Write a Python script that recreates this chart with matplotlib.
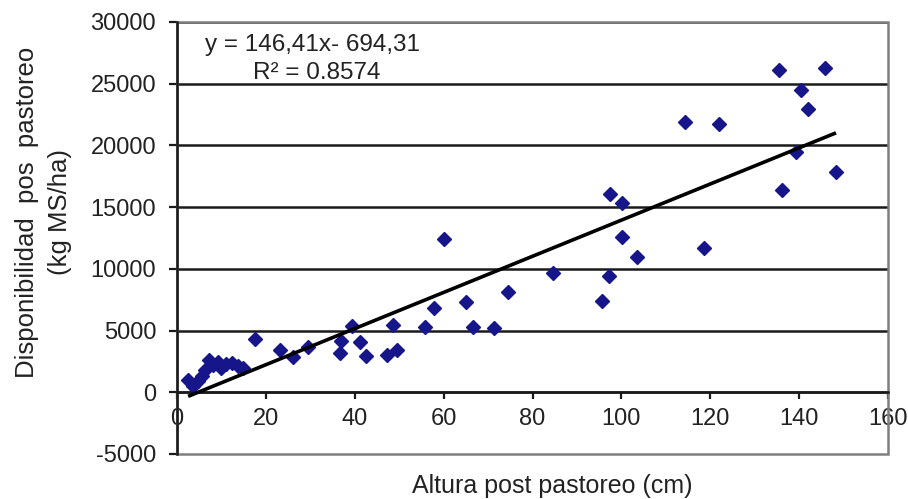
import matplotlib
matplotlib.use("Agg")
import matplotlib.pyplot as plt
from matplotlib.patches import Rectangle
import numpy as np

plt.rcParams['font.family'] = ['Liberation Sans', 'DejaVu Sans']

# Data
altura = [2.5, 3.6, 4.7, 5.6, 6.3, 7.2, 8.1, 9.2, 9.9, 11.0, 12.4, 13.7, 14.9,
          17.6, 23.2, 26.1, 29.5, 36.7, 36.9, 39.4, 41.2, 42.5, 47.3, 48.6, 49.5,
          55.8, 57.8, 60.1, 65.0, 66.6, 71.3, 74.5, 84.6,
          95.7, 97.2, 97.5, 100.2, 100.2, 103.5, 114.3, 118.6, 122.0,
          135.5, 136.1, 139.3, 140.4, 141.9, 145.8, 148.3]
disponibilidad = [970, 490, 890, 1300, 1780, 2590, 2190, 2430, 1950, 2270, 2350, 2110, 1950,
                  4300, 3400, 2840, 3650, 3160, 4130, 5350, 4050, 2920, 3000, 5430, 3400,
                  5270, 6810, 12400, 7290, 5270, 5190, 8100, 9640,
                  7370, 9400, 16050, 15320, 12560, 10940, 21880, 11670, 21720,
                  26090, 16400, 19470, 24470, 22930, 26260, 17830]

slope = 146.41
intercept = -694.31
r2_text = "R² = 0.8574"
eq_text = "y = 146,41x- 694,31"

x_ticks = [0, 20, 40, 60, 80, 100, 120, 140, 160]
y_ticks = [-5000, 0, 5000, 10000, 15000, 20000, 25000, 30000]

fig = plt.figure(figsize=(9.08, 4.99), dpi=100)
ax = fig.add_axes([177/908, 1-454/499, (888-177)/908, (454-22)/499])

navy = '#16168a'
ax.plot(altura, disponibilidad, linestyle='none', marker='D', markersize=7.3,
        color=navy, zorder=4)

xl = np.array([min(altura), max(altura)])
ax.plot(xl, slope*xl + intercept, color='black', lw=2.6, zorder=5,
        solid_capstyle='butt')

ax.set_xlim(0, 160)
ax.set_ylim(-5000, 30000)

# horizontal gridlines
for yv in y_ticks[1:]:
    ax.axhline(yv, color='#1a1a1a', lw=1.8, zorder=1)

# frame
for s in ['top', 'right']:
    ax.spines[s].set_visible(False)
ax.add_patch(Rectangle((0, 0), 1, 1, transform=ax.transAxes, fill=False,
                       edgecolor='#7f7f7f', lw=1.8, zorder=2, clip_on=False))
ax.spines['bottom'].set_position(('data', 0))
ax.spines['bottom'].set_color('#1a1a1a')
ax.spines['bottom'].set_linewidth(1.8)
ax.spines['left'].set_color('#1a1a1a')
ax.spines['left'].set_linewidth(1.8)
ax.spines['left'].set_zorder(3)

ax.set_xticks(x_ticks)
ax.set_yticks(y_ticks)
ax.set_xticklabels([str(v) for v in x_ticks])
ax.set_yticklabels([str(v) for v in y_ticks])
ax.tick_params(axis='x', direction='out', length=5, width=1.6, color='#1a1a1a',
               pad=6, labelsize=17, labelcolor='#222222')
ax.tick_params(axis='y', direction='out', length=6, width=1.6, color='#1a1a1a',
               pad=9, labelsize=17, labelcolor='#222222')

ax.text(6.3, 28150, eq_text, fontsize=17.5, color='#222222', ha='left', va='center')
ax.text(31.5, 25900, r2_text, fontsize=17.5, color='#222222', ha='center', va='center')

fig.text(27/908, 1-212/499, "Disponibilidad  pos  pastoreo", rotation=90,
         ha='center', va='center', fontsize=18.5, color='#222222')
fig.text(60/908, 1-212/499, "(kg MS/ha)", rotation=90,
         ha='center', va='center', fontsize=18.5, color='#222222')
fig.text(552/908, 1-486/499, "Altura post pastoreo (cm)", ha='center', va='center',
         fontsize=18, color='#222222')

fig.savefig('out.png', dpi=100)
